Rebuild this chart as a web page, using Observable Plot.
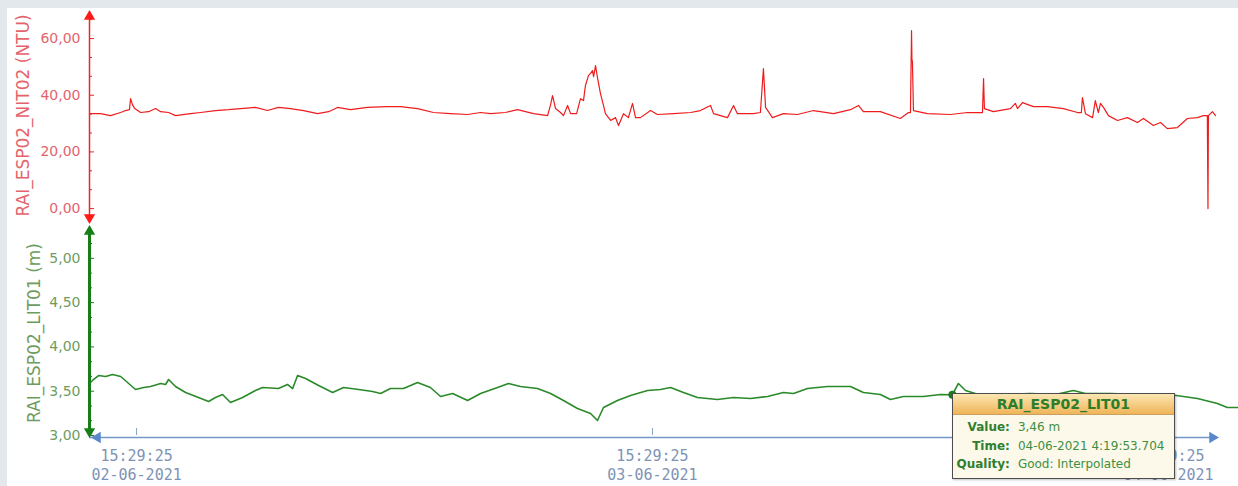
<!DOCTYPE html>
<html><head><meta charset="utf-8">
<script src="https://cdn.jsdelivr.net/npm/d3@7"></script>
<script src="https://cdn.jsdelivr.net/npm/@observablehq/plot@0.6"></script>
<style>
html,body{margin:0;padding:0;background:#e3e8ed;}
#root{position:relative;width:1238px;height:486px;overflow:hidden;background:#e3e8ed;}
#panel{position:absolute;left:7px;top:8px;width:1231px;height:478px;background:#fff;}
.plot{position:absolute;left:0;}
#tip{position:absolute;width:221px;border:1.5px solid #4d4d4d;background:#fcf8ea;font-family:"DejaVu Sans",sans-serif;box-shadow:1px 1px 2px rgba(0,0,0,0.25);}
#tip .hd{height:20px;line-height:20px;text-align:center;font-weight:bold;font-size:14px;color:#2b7d2b;background:linear-gradient(#fbe7b4,#efb558);border-bottom:1px solid #c9a060;}
#tip .bd{padding-top:3px;padding-bottom:4px;}
#tip .row{display:flex;height:18.5px;line-height:18.5px;font-size:12px;}
#tip .k{width:57px;text-align:right;font-weight:bold;color:#2f7f2f;}
#tip .v{padding-left:8px;color:#3f8f3f;white-space:nowrap;}
</style></head><body><div id="root"><div id="panel"></div></div>
<script>
// ---- time axis (hours relative to 02-06-2021 15:29:25) ----
const startTime = new Date(2021, 5, 2, 15, 29, 25);
const xStartHours = -2.19;
const xEndHours = 51.26;
const axisEndHours = 50.19;
const tickHours = [0, 24, 48];
const tickLabels = ["15:29:25\n02-06-2021", "15:29:25\n03-06-2021", "15:29:25\n04-06-2021"];

// ---- RAI_ESP02_NIT02 (NTU) ----
const nitTitle = "RAI_ESP02_NIT02 (NTU)";
const nitDomain = [-3.5, 69.2];
const nitMajorTicks = [0, 20, 40, 60];
const nitMinorTicks = [6.67, 13.33, 26.67, 33.33, 46.67, 53.33, 66.67];
const nitHours = [-2.19,-1.67,-1.21,-0.74,-0.51,-0.33,-0.28,-0.19,-0.09,0.19,0.56,0.88,1.12,1.49,1.81,2.51,2.98,3.67,4.28,4.84,5.53,6.09,6.6,7.16,7.77,8.42,8.93,9.35,9.95,10.74,11.67,12.28,13.07,13.81,14.6,15.4,16.0,16.47,17.16,17.72,18.47,19.12,19.26,19.35,19.49,19.72,19.86,20.05,20.19,20.47,20.65,20.79,20.88,21.02,21.12,21.21,21.26,21.35,21.44,21.58,21.72,21.81,22.05,22.28,22.42,22.65,22.88,23.07,23.21,23.44,23.91,24.23,24.98,25.77,26.23,26.7,26.84,27.49,27.77,27.95,28.7,29.02,29.16,29.26,29.58,30.09,30.74,31.49,32.42,33.21,33.58,33.81,34.6,35.53,35.91,36.0,36.05,36.07,36.09,36.14,36.79,37.86,38.65,39.26,39.35,39.4,39.44,39.86,40.65,40.88,40.98,41.21,41.72,42.37,43.12,43.77,43.95,44.0,44.14,44.47,44.6,44.74,44.84,44.98,45.21,45.63,46.09,46.56,46.84,47.3,47.63,47.95,48.42,48.88,49.35,49.63,49.81,49.84,49.86,50.05,50.19];
const nitValues = [33.5,33.5,32.8,33.9,34.6,34.9,38.8,36.7,35.3,33.9,34.2,35.3,34.2,33.9,32.8,33.5,33.9,34.6,34.9,35.3,35.7,34.6,35.7,35.3,34.6,33.5,34.2,35.7,34.9,35.7,36.0,36.0,35.3,33.9,33.5,33.2,33.9,33.5,33.9,34.9,33.5,32.8,36.7,39.9,35.3,33.9,32.8,36.4,33.5,33.5,38.8,38.1,43.4,46.9,47.7,48.7,46.6,50.5,46.2,40.6,36.4,33.5,31.1,32.1,29.3,33.5,32.1,37.1,32.1,32.1,34.6,33.2,33.5,33.9,34.6,36.4,33.5,32.1,36.4,33.5,33.5,33.9,49.4,35.7,32.1,33.5,33.2,34.6,33.5,34.9,36.4,34.2,34.2,31.8,33.9,33.9,62.8,52.2,52.2,34.6,33.5,33.2,33.9,33.9,33.9,45.9,35.3,34.2,35.3,37.1,35.3,37.4,36.0,36.0,35.3,33.9,33.9,39.2,33.5,32.1,38.1,33.9,37.1,35.7,32.8,31.1,32.1,30.4,31.8,29.3,30.4,28.2,28.6,31.8,32.1,32.8,32.8,0.0,32.8,34.2,32.8];

// ---- RAI_ESP02_LIT01 (m) ----
const litTitle = "RAI_ESP02_LIT01 (m)";
const litDomain = [3.0, 5.314];
const litMajorTicks = [3.0, 3.5, 4.0, 4.5, 5.0];
const litMinorTicks = [3.167, 3.333, 3.667, 3.833, 4.167, 4.333, 4.667, 4.833, 5.167];
const litHours = [-2.19,-2.05,-1.77,-1.44,-1.12,-0.74,-0.42,-0.05,0.33,0.65,1.12,1.35,1.49,1.81,2.28,2.88,3.35,3.67,4.0,4.37,4.93,5.53,5.86,6.6,7.02,7.26,7.49,7.86,8.47,9.12,9.63,10.33,10.98,11.35,11.81,12.42,13.07,13.67,14.14,14.7,15.4,16.0,16.79,17.3,17.86,18.65,19.26,19.86,20.51,21.12,21.44,21.72,22.37,22.98,23.77,24.37,24.84,25.44,26.09,27.02,27.77,28.56,29.35,30.09,30.56,31.21,32.14,33.21,33.81,34.6,35.07,35.67,36.6,37.4,37.95,38.23,38.56,39.02,40.19,41.58,42.74,43.58,44.14,45.3,46.7,48.37,49.35,50.28,50.74,51.26];
const litValues = [3.587,3.621,3.677,3.666,3.688,3.666,3.598,3.519,3.542,3.553,3.587,3.576,3.632,3.553,3.485,3.429,3.384,3.429,3.463,3.372,3.429,3.508,3.542,3.530,3.576,3.530,3.677,3.643,3.564,3.485,3.542,3.519,3.497,3.474,3.530,3.530,3.598,3.542,3.440,3.474,3.395,3.474,3.542,3.587,3.553,3.530,3.474,3.395,3.305,3.248,3.169,3.316,3.395,3.451,3.508,3.519,3.542,3.485,3.429,3.406,3.429,3.418,3.440,3.485,3.474,3.530,3.553,3.553,3.485,3.463,3.406,3.440,3.440,3.463,3.46,3.587,3.508,3.474,3.463,3.474,3.463,3.508,3.474,3.474,3.463,3.451,3.418,3.361,3.316,3.316];

// ---- tooltip ----
const tipHours = 37.95;
const tipValue = 3.46;
const tipName = "RAI_ESP02_LIT01";
const tipRows = [["Value:", "3,46 m"], ["Time:", "04-06-2021 4:19:53.704"], ["Quality:", "Good: Interpolated"]];

// ---- build ----
const HOUR = 3600e3;
const toDate = h => new Date(+startTime + h * HOUR);
const xDomain = [toDate(xStartHours), toDate(xEndHours)];
const x0 = xDomain[0];
const axisEnd = toDate(axisEndHours);
const fmt = d => d3.format(".2f")(d).replace(".", ",");
const nit = nitHours.map((h, i) => ({t: toDate(h), v: nitValues[i]}));
const lit = litHours.map((h, i) => ({t: toDate(h), v: litValues[i]}));
const ticks = tickHours.map((h, i) => ({t: toDate(h), label: tickLabels[i]}));

const W = 1238, ML = 89;
const tickIn = W - ML - 5;     // leaves a 5px tick inside the frame
const minorIn = W - ML - 3;

const RED = "#ee1c1c", RED_AX = "#e8262b", RED_TXT = "#e4646c";
const GRN = "#2a8a2a", GRN_AX = "#167e16", GRN_TXT = "#6e9c5e";
const BLUE = "#7396c6";

const topPlot = Plot.plot({
  width: W, height: 222, marginLeft: ML, marginRight: 0, marginTop: 12, marginBottom: 4,
  x: {domain: xDomain, axis: null},
  y: {domain: nitDomain, axis: null},
  style: {background: "transparent", overflow: "visible", fontFamily: "DejaVu Sans, sans-serif"},
  marks: [
    Plot.line(nit, {x: "t", y: "v", stroke: RED, strokeWidth: 1.2}),
    Plot.ruleX([x0], {y1: nitDomain[0], y2: nitDomain[1], stroke: RED_AX, strokeWidth: 1.5}),
    Plot.tickY(nitMajorTicks, {y: d => d, stroke: RED_AX, insetRight: tickIn}),
    Plot.tickY(nitMinorTicks, {y: d => d, stroke: RED_AX, insetRight: minorIn}),
    Plot.text(nitMajorTicks, {y: d => d, text: fmt, frameAnchor: "left", dx: -9, textAnchor: "end", fill: RED_TXT, fontSize: 14}),
    Plot.dot([nitDomain[1]], {x: () => x0, y: d => d, symbol: "triangle", r: 4.2, fill: "#ff1a1a", dy: 4}),
    Plot.dot([nitDomain[0]], {x: () => x0, y: d => d, symbol: "triangle", r: 4.2, fill: "#ff1a1a", rotate: 180, dy: -1}),
    Plot.text([nitTitle], {frameAnchor: "left", rotate: -90, dx: -66, textAnchor: "middle", fill: RED_TXT, fontSize: 17})
  ]
});
topPlot.classList.add("plot");
topPlot.style.top = "0px";

const tipDatum = {t: toDate(tipHours), v: tipValue};

const botPlot = Plot.plot({
  width: W, height: 266, marginLeft: ML, marginRight: 0, marginTop: 10, marginBottom: 51,
  x: {domain: xDomain, axis: null},
  y: {domain: litDomain, axis: null},
  style: {background: "transparent", overflow: "visible", fontFamily: "DejaVu Sans, sans-serif"},
  marks: [
    Plot.line(lit, {x: "t", y: "v", stroke: GRN, strokeWidth: 1.6}),
    Plot.ruleY([litDomain[0]], {x1: x0, x2: axisEnd, stroke: BLUE, strokeWidth: 1.5, dy: 2}),
    Plot.dot([x0], {x: d => d, y: () => litDomain[0], symbol: "triangle", r: 4.2, fill: "#5b88cc", rotate: -90, dx: 8, dy: 2}),
    Plot.dot([axisEnd], {x: d => d, y: () => litDomain[0], symbol: "triangle", r: 4.2, fill: "#5b88cc", rotate: 90, dx: -3, dy: 2}),
    Plot.tickX(ticks, {x: "t", stroke: "#8aa2c4", insetTop: 198}),
    Plot.text(ticks, {x: "t", text: "label", frameAnchor: "bottom", dy: 12, lineAnchor: "top", lineHeight: 1.27, fill: "#7e93b5", fontSize: 15, fontFamily: "DejaVu Sans Mono, monospace"}),
    Plot.ruleX([x0], {y1: litDomain[0], y2: litDomain[1], stroke: GRN_AX, strokeWidth: 3}),
    Plot.tickY(litMajorTicks, {y: d => d, stroke: GRN_AX, insetRight: tickIn}),
    Plot.tickY(litMinorTicks, {y: d => d, stroke: GRN_AX, insetRight: minorIn}),
    Plot.text(litMajorTicks, {y: d => d, text: fmt, frameAnchor: "left", dx: -9, textAnchor: "end", fill: GRN_TXT, fontSize: 14}),
    Plot.dot([litDomain[1]], {x: () => x0, y: d => d, symbol: "triangle", r: 4.2, fill: GRN_AX, dy: 1}),
    Plot.dot([litDomain[0]], {x: () => x0, y: d => d, symbol: "triangle", r: 4.2, fill: GRN_AX, rotate: 180, dy: -4}),
    Plot.text([litTitle], {frameAnchor: "left", rotate: -90, dx: -55, textAnchor: "middle", fill: GRN_TXT, fontSize: 17}),
    Plot.dot([tipDatum], {x: "t", y: "v", r: 4, fill: "#1e7a1e"})
  ]
});
botPlot.classList.add("plot");
const BOT_TOP = 220;
botPlot.style.top = BOT_TOP + "px";

const root = document.getElementById("root");
root.appendChild(topPlot);
root.appendChild(botPlot);

// tooltip anchored on the data point through the plot's scales
const tx = botPlot.scale("x").apply(tipDatum.t);
const ty = botPlot.scale("y").apply(tipDatum.v) + BOT_TOP;
const tip = document.createElement("div");
tip.id = "tip";
tip.style.left = tx + "px";
tip.style.top = (ty - 1) + "px";
const hd = document.createElement("div");
hd.className = "hd"; hd.textContent = tipName;
tip.appendChild(hd);
const bd = document.createElement("div");
bd.className = "bd";
for (const [k, v] of tipRows) {
  const r = document.createElement("div"); r.className = "row";
  const a = document.createElement("span"); a.className = "k"; a.textContent = k;
  const b = document.createElement("span"); b.className = "v"; b.textContent = v;
  r.appendChild(a); r.appendChild(b); bd.appendChild(r);
}
tip.appendChild(bd);
root.appendChild(tip);
</script>
</body></html>
